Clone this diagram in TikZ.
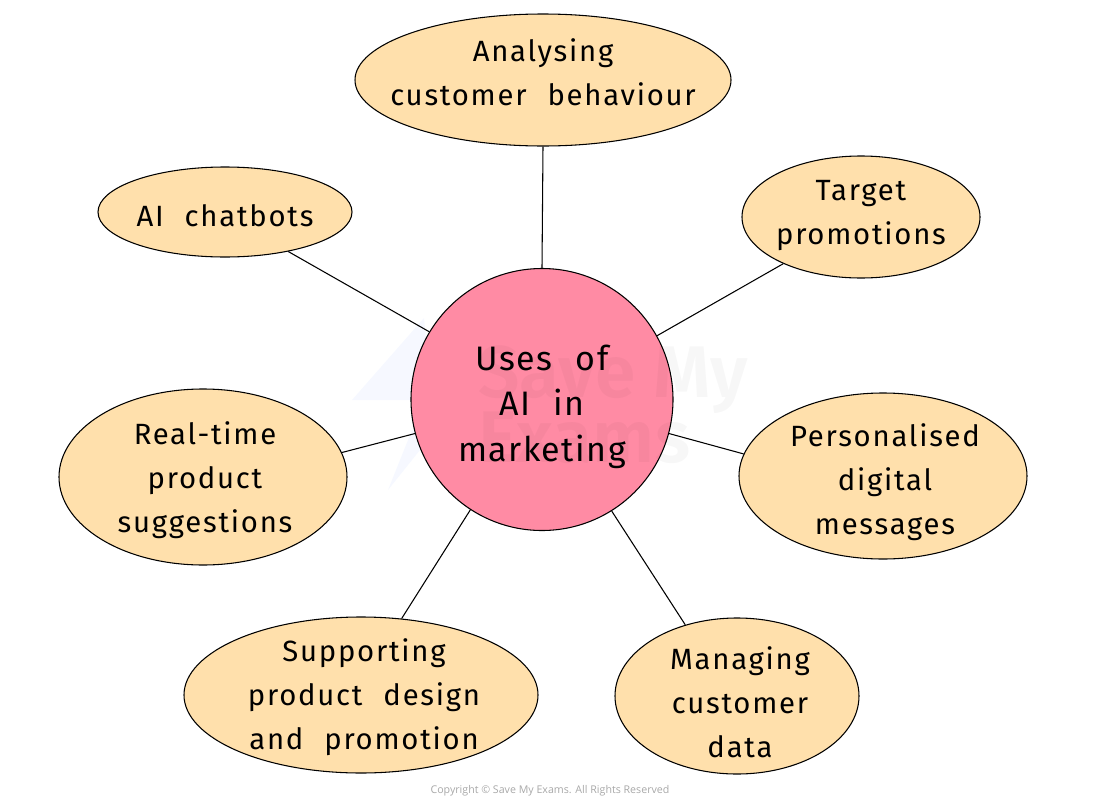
\documentclass[tikz,border=0pt]{standalone}
\usepackage{fontspec}
\setmainfont{Fira Sans}[LetterSpace=6,WordSpace=2.2]
\newfontfamily\hubfont{Fira Sans}[LetterSpace=4.5,WordSpace=2.2]
\newfontfamily\copyfont{Open Sans}
\newfontfamily\markfont{Fira Sans SemiBold}
\usetikzlibrary{shapes.geometric}
\definecolor{petal}{HTML}{FFE0AC}
\definecolor{hub}{HTML}{FF8BA4}
\definecolor{copygrey}{HTML}{A8A8A8}
\definecolor{logoblue}{HTML}{4A7DFF}
\newlength{\pxu}
\setlength{\pxu}{0.0264cm}
\tikzset{
  px/.style={x=\pxu,y=-\pxu},
  petalnode/.style={ellipse,draw=black,fill=petal,line width=0.8pt,inner sep=0pt},
  hubnode/.style={circle,draw=black,fill=hub,line width=0.8pt,inner sep=0pt,minimum size=262\pxu},
  petaltext/.style={align=center,inner sep=0pt,font=\fontsize{22}{33}\selectfont},
  hubtext/.style={align=center,inner sep=0pt,font=\hubfont\fontsize{25.5}{34.1}\selectfont},
  link/.style={draw=black,line width=0.8pt},
  markword/.style={font=\markfont\fontsize{55}{55}\selectfont,text=black,text opacity=0.03,inner sep=0pt,anchor=west},
  logopart/.style={fill=logoblue,fill opacity=0.05,draw=none}
}
\begin{document}
\begin{tikzpicture}[px]
\useasboundingbox (0,0) rectangle (1100,802);
\fill[logopart] (352,400) -- (424,318) -- (432,400) -- cycle;
\fill[logopart] (388,490) -- (412,430) -- (436,430) -- cycle;
\node[hubnode] (hub) at (542,399.5) {};
\node[markword] (markone) at (478,380) {Save My};
\node[markword] (marktwo) at (478,438) {Exams};
\node[hubtext] (hubcaption) at (542,406.5) {Uses of\\AI in\\marketing};
\node[petalnode,minimum width=376\pxu,minimum height=132\pxu,label={[petaltext,yshift=8\pxu]center:{Analysing\\customer behaviour}}] (a) at (543,80) {};
\node[petalnode,minimum width=238\pxu,minimum height=122\pxu,label={[petaltext,yshift=1.5\pxu]center:{Target\\promotions}}] (b) at (861,217) {};
\node[petalnode,minimum width=288\pxu,minimum height=166\pxu,label={[petaltext,xshift=2\pxu,yshift=-6.5\pxu]center:{Personalised\\digital\\messages}}] (c) at (883,476) {};
\node[petalnode,minimum width=244\pxu,minimum height=156\pxu,label={[petaltext,xshift=3\pxu,yshift=-6\pxu]center:{Managing\\customer\\data}}] (d) at (737,696) {};
\node[petalnode,minimum width=354\pxu,minimum height=156\pxu,label={[petaltext,xshift=3\pxu,yshift=-2.5\pxu]center:{Supporting\\product design\\and promotion}}] (e) at (361,695) {};
\node[petalnode,minimum width=288\pxu,minimum height=176\pxu,label={[petaltext,xshift=2\pxu,yshift=-3\pxu]center:{Real-time\\product\\suggestions}}] (f) at (203,477) {};
\node[petalnode,minimum width=254\pxu,minimum height=90\pxu,label={[petaltext,yshift=-4\pxu]center:{AI chatbots}}] (g) at (225,212) {};
\draw[link] (hub.90) -- (a.-90);
\draw[link] (hub.29.5) -- (b.211.1);
\draw[link] (hub.-15.1) -- (c.171);
\draw[link] (hub.-58.5) -- (d.126.2);
\draw[link] (hub.-123.1) -- (e.62.6);
\draw[link] (hub.-165.2) -- (f.10.2);
\draw[link] (hub.149.7) -- (g.-32.6);
\node[font=\copyfont\fontsize{8}{10}\selectfont,text=copygrey] (copy) at (550,791) {Copyright © Save My Exams. All Rights Reserved};
\end{tikzpicture}
\end{document}
